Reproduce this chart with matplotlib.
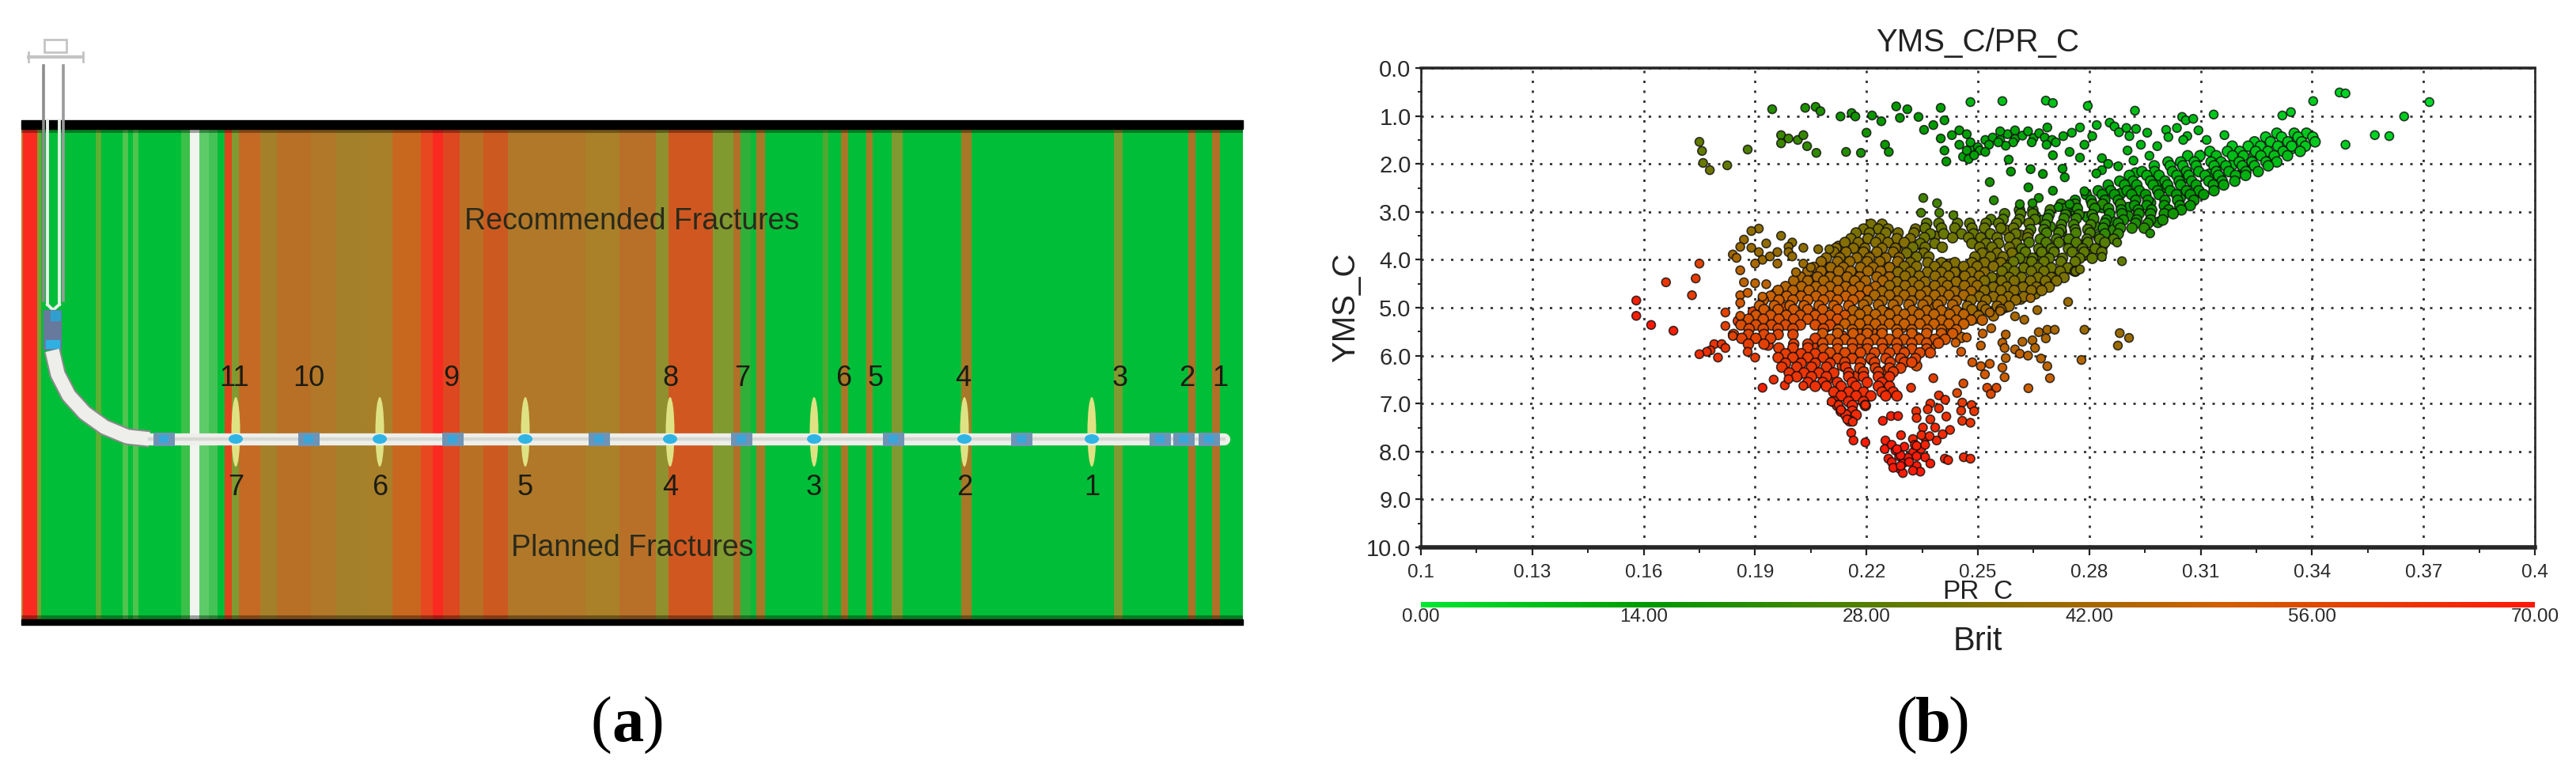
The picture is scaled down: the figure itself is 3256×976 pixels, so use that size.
import numpy as np
import matplotlib
matplotlib.use('Agg')
import matplotlib.pyplot as plt
from matplotlib.colors import LinearSegmentedColormap, Normalize
from matplotlib.cm import ScalarMappable
from matplotlib.patches import Ellipse, Rectangle

plt.rcParams['font.family'] = ['Liberation Sans', 'DejaVu Sans']

# (a) well log track, picture x position of each stripe edge and its colour
G = '#00BE37'
track_edges = [27, 29, 47, 52, 121, 128, 155, 162, 168, 175, 229, 240, 252, 264, 275, 284, 293, 302,
               329, 350, 393, 425, 464, 496, 532, 547, 560, 581, 611, 642, 740, 783, 829, 845, 901,
               927, 936, 949, 956, 967, 1040, 1047, 1063, 1072, 1095, 1103, 1127, 1141, 1215, 1228,
               1408, 1419, 1502, 1511, 1532, 1542, 1571]
track_colors = ['#C08030', '#FA2A20', '#7DA030', G, '#5CB034', G, '#4FC44F', G, '#4FC44F', G,
                '#3CC04A', '#F0F5F0', '#5CCB68', '#45C255', G, '#E0461E', '#7F9A30', '#C46A24',
                '#A5802A', '#B87026', '#B07828', '#A5802A', '#A8802A', '#C8681F', '#E84820',
                '#FA2A20', '#DD4820', '#B87025', '#CC5A20', '#B07828', '#AA8028', '#B87028',
                '#90902E', '#D05820', '#809A30', '#B07028', '#30B038', '#10B838', '#A87828', G,
                '#50A830', G, '#A87828', G, '#A87828', G, '#7F9A30', G, '#A87828', G, '#7F9A30', G,
                '#B07028', G, '#B07028', G]
well_x = [66, 73, 87, 107, 132, 161, 189, 1547]
well_y = [443, 473, 500, 522, 540, 552, 555, 555]
packer_x = [207, 390, 572, 757, 937, 1129, 1291, 1466, 1496, 1528]
planned_x = [1380, 1219, 1029, 847, 664, 480, 298]
planned_labels = ['1', '2', '3', '4', '5', '6', '7']
recommended_x = [1542, 1500, 1416, 1217, 1107, 1066, 938, 847, 570, 390, 296]
recommended_labels = ['1', '2', '3', '4', '5', '6', '7', '8', '9', '10', '11']

# (b) crossplot axes
pr_ticks = [0.1, 0.13, 0.16, 0.19, 0.22, 0.25, 0.28, 0.31, 0.34, 0.37, 0.4]
pr_labels = ['0.1', '0.13', '0.16', '0.19', '0.22', '0.25', '0.28', '0.31', '0.34', '0.37', '0.4']
yms_ticks = [0, 1, 2, 3, 4, 5, 6, 7, 8, 9, 10]
yms_labels = ['0.0', '1.0', '2.0', '3.0', '4.0', '5.0', '6.0', '7.0', '8.0', '9.0', '10.0']
brit_ticks = [0, 14, 28, 42, 56, 70]
brit_labels = ['0.00', '14.00', '28.00', '42.00', '56.00', '70.00']

# scattered points, read one by one
sparse_pr = [.3474, .349, .3403, .3716, .2566, .248, .2683, .2702, .2796, .2923, .3135, .332, .3343, .3648,
             .305, .306, .308, .282, .2855, .2868, .2687, .2775, .2753, .290, .2926, .288, .2956, .2908,
             .3007, .3036, .3094, .3064, .3013, .3164, .2808, .2787, .2939, .2903, .3569, .3608, .349,
             .3116, .3053, .2983, .2962, .2747, .2702, .2775, .2834, .2851, .2878, .2834, .2819, .2919,
             .2583, .2589, .2642, .2675, .2728, .2734, .2532, .2636, .2702, .2543, .2664, .2647, .2717,
             .2787, .2613, .2747,
             .1946, .2035, .2063, .2076, .213, .216, .217, .2215, .224, .228, .229, .231, .234, .240, .241,
             .238, .2355, .220, .197, .199, .197, .2015, .203, .204, .2065, .2145, .2185, .225, .226, .240,
             .243, .245, .241, .2415, .246, .245, .248,
             .175, .1757, .176, .1778, .1825, .188, .2353, .239, .2347, .2396, .2434,
             .248, .250, .247, .2475, .252, .254, .256, .258, .26, .262, .2635, .265, .2665, .268, .2645,
             .2595, .2575, .2555, .253, .2505, .249, .256, .26, .252, .247, .27, .273, .271, .2685]
sparse_yms = [.51, .53, .69, .71, .69, .71, .68, .73, .79, .89, .97, .99, .92, 1.01,
              1.02, 1.09, 1.06, 1.19, 1.14, 1.22, 1.24, 1.24, 1.35, 1.25, 1.27, 1.34, 1.35, 1.42,
              1.29, 1.25, 1.30, 1.42, 1.44, 1.40, 1.42, 1.60, 1.60, 1.72, 1.40, 1.42, 1.60,
              1.50, 1.50, 1.63, 1.83, 1.75, 1.82, 1.87, 1.88, 2.0, 2.05, 2.13, 2.2, 1.93,
              1.91, 2.16, 2.11, 2.21, 2.10, 2.28, 2.38, 2.49, 2.56, 2.76, 2.71, 2.82, 2.90,
              2.57, 2.84, 2.84,
              .86, .83, .81, .90, 1.01, .94, 1.01, .99, 1.11, .80, 1.04, .86, 1.02, .83, 1.09,
              1.19, 1.29, 1.35, 1.40, 1.47, 1.57, 1.50, 1.40, 1.63, 1.77, 1.75, 1.77, 1.60, 1.75, 1.47,
              1.40, 1.30, 1.72, 1.95, 1.85, 1.60, 1.67,
              1.54, 1.73, 1.98, 2.13, 2.03, 1.70, 2.71, 2.82, 3.02, 3.02, 3.07,
              1.55, 1.65, 1.72, 1.90, 1.5, 1.45, 1.5, 1.38, 1.48, 1.41, 1.32, 1.46, 1.36, 1.45, 1.55,
              1.55, 1.62, 1.55, 1.60, 1.72, 1.82, 1.32, 1.30, 1.75, 1.38, 1.5, 1.42, 1.55, 1.6]
sparse_brit = [4, 4, 5, 3, 7, 9, 7, 7, 7, 8, 6, 5, 5, 5,
               8, 8, 8, 9, 9, 9, 11, 10, 10, 9, 9, 9, 9, 9,
               8, 8, 8, 8, 8, 7, 10, 11, 9, 10, 4, 4, 5,
               7, 8, 9, 9, 12, 12, 12, 11, 11, 11, 11, 12, 10,
               13, 14, 14, 14, 13, 13, 18, 15, 15, 20, 17, 18, 17,
               15, 19, 16,
               20, 19, 19, 19, 17, 17, 17, 16, 15, 15, 15, 14, 14, 13, 13,
               14, 14, 17, 24, 24, 24, 23, 23, 22, 22, 20, 18, 16, 16, 14,
               13, 13, 14, 14, 12, 13, 12,
               30, 30, 31, 32, 30, 27, 25, 25, 26, 26, 27,
               12, 12, 13, 13, 12, 12, 12, 12, 12, 12, 12, 12, 12, 12, 12,
               12, 12, 12, 12, 13, 13, 12, 12, 13, 13, 11, 11, 11, 11]

# left fringe of the main cloud
fringe_pr = [.191, .189, .197, .187, .193, .186, .200, .199, .203, .207, .210, .189, .191, .196, .199, .200,
             .184, .185, .192, .194, .190, .196, .203, .205, .175, .186, .201, .174, .166, .187, .190, .193,
             .173, .158, .186, .188, .192, .186, .158, .182, .186, .162, .182, .168,
             .184, .179, .181, .182, .178, .177, .175, .180, .188, .190, .192, .195, .198, .199, .203]
fringe_yms = [3.35, 3.40, 3.50, 3.58, 3.66, 3.73, 3.64, 3.73, 3.75, 3.78, 3.78, 3.75, 3.84, 3.84, 3.84, 3.93,
              3.89, 3.96, 4.00, 3.93, 4.08, 4.08, 4.08, 4.16, 4.08, 4.22, 4.26, 4.39, 4.47, 4.47, 4.49, 4.51,
              4.74, 4.85, 4.74, 4.69, 4.77, 4.90, 5.17, 5.10, 5.17, 5.36, 5.38, 5.48,
              5.59, 5.76, 5.76, 5.84, 5.89, 5.92, 5.97, 6.04, 5.92, 6.04, 6.67, 6.50, 6.62, 6.49, 6.63]
fringe_brit = [38, 38, 37, 40, 38, 41, 37, 38, 38, 37, 36, 40, 40, 39, 39, 39,
               42, 43, 40, 40, 43, 41, 40, 40, 58, 46, 42, 60, 62, 47, 47, 46,
               60, 68, 50, 50, 49, 52, 68, 58, 53, 70, 59, 68,
               58, 62, 62, 62, 63, 63, 64, 63, 60, 60, 68, 63, 63, 63, 62]

# lower right scatter and the two red blobs
lower_pr = [.2763, .2775, .2888, .2834, .2875, .2964, .2743, .266, .2642, .26, .2625, .256, .2532, .2536, .2513, .247,
            .244, .2508, .2455, .2575, .2566, .2572, .26, .262, .2647, .2664, .2687, .2707, .2683, .2654,
            .267, .2687, .2694, .2787, .2882, .2907, .2877, .2779, .2613, .2575, .2635, .2485, .2532, .2508,
            .2566, .2519, .2572, .2636, .238, .232, .2461, .2444, .2525, .255, .2535, .2334,
            .2106, .2125, .2131, .2148, .2163, .2159, .2165, .2197, .2197, .2244, .2266, .2285,
            .2251, .2249, .2259, .2268, .2278, .2288, .2298, .2291, .2298, .2293, .2325, .2358, .2389, .2347,
            .2358, .2372, .2335, .2345, .2411, .242, .2462, .248, .2325, .2312, .2302, .2292, .2282, .2268, .2272,
            .2315, .2335, .233, .2395, .2372, .2412, .2458, .2483, .249, .2335, .2372, .2415, .2458, .248,
            .2365, .2395, .2455, .2352, .2385, .2425, .2348, .237, .2405, .2335, .2358, .2292, .2325]
lower_yms = [4.24, 4.20, 4.03, 3.94, 3.64, 3.45, 4.88, 5.05, 4.80, 5.18, 5.25, 5.07, 5.10, 5.43, 5.54, 5.62,
             5.73, 5.79, 5.92, 5.56, 5.73, 5.84, 5.87, 5.71, 5.68, 5.51, 5.46, 5.46, 5.64, 5.84,
             6.06, 6.22, 6.47, 5.46, 5.53, 5.63, 5.79, 6.09, 5.96, 6.05, 6.00, 6.14, 6.17, 6.22,
             6.25, 6.39, 6.45, 6.68, 6.47, 6.67, 6.58, 6.78, 6.67, 6.67, 6.80, 7.16,
             6.96, 7.03, 7.13, 7.33, 7.38, 7.61, 7.77, 7.03, 7.81, 7.36, 7.26, 7.26,
             7.77, 7.95, 8.15, 7.86, 7.98, 8.10, 8.25, 8.37, 8.45, 7.66, 7.74, 7.72, 7.77, 7.95,
             8.12, 8.25, 8.30, 8.42, 8.15, 8.18, 8.12, 8.15, 8.02, 8.13, 7.90, 8.08, 7.95, 8.22, 8.34,
             8.22, 8.10, 7.86, 6.83, 7.00, 6.92, 6.98, 7.03, 7.16, 7.30, 7.33, 7.27, 7.36, 7.40,
             7.12, 7.10, 7.15, 7.50, 7.50, 7.55, 7.66, 7.68, 7.64, 7.88, 7.86, 8.30, 8.40]
lower_brit = [32, 32, 30, 29, 27, 19, 40, 41, 42, 43, 43, 43, 44, 47, 48, 50,
              50, 48, 52, 46, 47, 47, 46, 45, 44, 44, 43, 43, 44, 45,
              46, 47, 49, 40, 40, 40, 40, 45, 48, 47, 47, 53, 51, 51,
              50, 52, 50, 50, 59, 62, 55, 56, 56, 56, 56, 63,
              64, 64, 65, 65, 65, 66, 67, 64, 69, 68, 68, 68,
              68, 69, 69, 70, 70, 70, 70, 69, 69, 66, 66, 66, 66, 68,
              68, 69, 69, 69, 66, 66, 64, 64, 69, 69, 70, 70, 70, 69, 69,
              69, 69, 69, 62, 63, 63, 60, 61, 61, 63, 63, 63, 62, 62,
              63, 63, 61, 65, 65, 64, 65, 65, 65, 67, 67, 69, 69]

# dense cloud, one entry per strip of equal YMS_C and read colour
pr_rows = [
    [.3305, .3352, .3385],
    [.3275, .3318, .3362, .3402],
    [.3245, .3288, .3335, .3372, .3408],
    [.3185, .3228, .3261, .3308, .3345, .3382],
    [.3125, .3172, .3205, .3248, .3281, .3322, .3368],
    [.3065, .3098, .3142, .3186, .3215, .3262, .3298, .3334],
    [.3012, .3046, .3083, .3128, .3155, .3204, .3238, .3276, .3305],
    [.2975, .3018, .3052, .3088, .3136, .3168, .3212, .3245, .3282],
    [.2942, .2976, .3024, .3062, .3095, .3142, .3176, .3222, .3255],
    [.2908, .2955, .2988, .3036, .3068, .3112, .3148, .3194, .3221],
    [.2882, .2918, .2965, .3004, .3042, .3076, .3122, .3158, .3192],
    [.2851, .2895, .2928, .2972, .3011, .3046, .3088, .3134, .3162],
    [.2824, .2858, .2902, .2935, .2984, .3018, .3062, .3095, .3136],
    [.2792, .2835, .2868, .2914, .2952, .2988, .3035, .3072, .3108],
    [.2762, .2805, .2842, .2878, .2925, .2958, .3004, .3038, .3082],
    [.2724, .2762, .2808, .2836, .2884], [.2922, .2955, .3002, .3044, .3072],
    [.2612, .2648, .2695], [.2735, .2768, .2815, .2852], [.2886, .2932, .2968, .3014, .3048],
    [.2572, .2615, .2648], [.2692, .2736, .2772, .2808], [.2855, .2888, .2934, .2965, .3002, .3026],
    [.2535, .2568, .2612, .2654], [.2688, .2732, .2765, .2812], [.2846, .2892, .2928, .2965, .2998],
    [.2212, .2242], [.2362, .2395, .2445, .2478, .2522, .2556, .2604, .2638], [.2682, .2725, .2758, .2804], [.2842, .2878, .2925, .2958],
    [.2192, .2232, .2258, .2332], [.2358, .2402, .2438, .2484, .2518, .2562, .2596], [.2642, .2678, .2724, .2762, .2796], [.2838, .2884, .2915, .2948],
    [.2172, .2208, .2252, .2285, .2328], [.2372, .2408, .2456, .2488, .2534, .2602, .2636], [.2685, .2718, .2764, .2802], [.2842, .2878],
    [.2158, .2204, .2236, .2282, .2318], [.2356, .2432, .2475, .2508, .2552, .2585, .2634], [.2668, .2712, .2745, .2794, .2828, .2866],
    [.2142, .2178, .2225, .2258, .2302], [.2345, .2384, .2484, .2522, .2556, .2604], [.2638, .2684, .2718, .2765, .2796, .2842],
    [.2118, .2165, .2196, .2242, .2278], [.2325, .2358, .2404, .2505, .2538, .2585], [.2618, .2664, .2698, .2744, .2782, .2816],
    [.2112, .2145, .2192, .2228, .2272], [.2308, .2354, .2512, .2552, .2592], [.2628, .2672, .2705, .2754, .2786, .2834],
    [.2092, .2128, .2174, .2208, .2252, .2288], [.2335, .2368, .2492, .2534, .2568], [.2612, .2648, .2692, .2728, .2774, .2808],
    [.2078, .2122, .2155, .2202, .2236, .2284], [.2318, .2365, .2402, .2438, .2484, .2518, .2562], [.2596, .2645, .2678, .2724, .2762],
    [.2058, .2104, .2138, .2184, .2218, .2262], [.2302, .2335, .2384, .2416, .2462, .2498, .2542], [.2578, .2624, .2662, .2698, .2742],
    [.2042, .2078, .2125, .2158, .2204, .2238], [.2285, .2318, .2364, .2402, .2438, .2482, .2518], [.2565, .2598, .2644, .2678, .2722, .2762],
    [.2022, .2068, .2102, .2148, .2182, .2228, .2262], [.2304, .2342, .2385, .2422, .2465, .2504], [.2538, .2584, .2618, .2662, .2698, .2732],
    [.2004, .2042, .2085, .2122, .2168, .2198, .2244], [.2282, .2325, .2358, .2404, .2442, .2484], [.2518, .2564, .2598, .2642, .2682, .2712],
    [.1982, .2025, .2064, .2102, .2144, .2182, .2224], [.2262, .2304, .2342, .2384, .2418, .2464, .2498], [.2542, .2578, .2622, .2658, .2692],
    [.1962, .2002, .2045, .2082, .2124, .2162, .2204], [.2242, .2284, .2322, .2362, .2402, .2438, .2482], [.2518, .2562, .2598, .2644, .2672],
    [.1942, .1985, .2024, .2064, .2102, .2144, .2182], [.2222, .2262, .2302, .2345, .2384, .2422, .2462], [.2504, .2542, .2582, .2624],
    [.1922, .1964, .2002, .2042, .2084, .2122, .2164], [.2202, .2242, .2284, .2322, .2364, .2402, .2442], [.2482, .2522, .2564, .2602],
    [.1912, .1952, .1994, .2032, .2072, .2112, .2152], [.2192, .2232, .2272, .2314, .2352, .2392, .2432], [.2472, .2512, .2552, .2584],
    [.1924, .1962, .2004, .2042, .2082, .2122], [.2164, .2202, .2242, .2282, .2324, .2362, .2402, .2442], [.2484, .2522, .2562],
    [.1902, .1942, .1984, .2022, .2062, .2102, .2142], [.2182, .2224, .2262, .2302, .2342, .2382, .2424, .2462], [.2502, .2542],
    [.1882, .1922, .1964, .2004, .2042, .2082, .2122], [.2162, .2204, .2242, .2284, .2322, .2362, .2402, .2442, .2482, .2512],
    [.1862, .1902, .1944, .1982, .2022, .2062, .2102], [.2142, .2182, .2224, .2262, .2302, .2344, .2382, .2422, .2462],
    [.1884, .1922, .1962, .2002, .2084], [.2124, .2162, .2204, .2242, .2282, .2322, .2364, .2402, .2442],
    [.1842, .1882, .1924, .1962, .2002], [.2082, .2122, .2164, .2202, .2242, .2284, .2322, .2362, .2402, .2432],
    [.1864, .1902, .1942, .2062], [.2102, .2142, .2184, .2222, .2262, .2302, .2342, .2384, .2412],
    [.1882, .1924, .2004, .2042], [.2082, .2122, .2162, .2204, .2242, .2282, .2322, .2362, .2394],
    [.1964, .2002, .2042], [.2084, .2122, .2162, .2202, .2244, .2282, .2322, .2362],
    [.1982, .2024, .2062], [.2102, .2142, .2184, .2222, .2262, .2302, .2344, .2372],
    [.1962, .2002, .2042, .2084], [.2122, .2162, .2212, .2252, .2292, .2332],
    [.1982, .2024, .2062, .2102], [.2142, .2184, .2222, .2264, .2302, .2322],
    [.1972, .2012, .2052, .2092, .2144], [.2182, .2224, .2262, .2292],
    [.1992, .2032, .2072, .2112, .2152], [.2192, .2232, .2272],
    [.2012, .2052, .2092, .2152, .2192, .2232, .2262],
    [.2042, .2082, .2122, .2162, .2202, .2242],
    [.2062, .2092, .2132, .2172, .2232, .2262],
    [.2112, .2152, .2192, .2242, .2272],
    [.2132, .2172, .2212, .2252, .2282],
    [.2112, .2152, .2192],
    [.2122, .2162, .2197],
    [.2132, .2162],
    [.2145, .2172],
    [.2155],
]
yms_rows = [1.36, 1.44, 1.54, 1.63, 1.74, 1.83, 1.96, 2.04, 2.16, 2.24, 2.36, 2.44, 2.56, 2.64, 2.76,
            2.84, 2.87,
            2.96, 2.93, 2.96,
            3.04, 3.06, 3.04,
            3.16, 3.14, 3.17,
            3.26, 3.24, 3.27, 3.24,
            3.36, 3.34, 3.37, 3.34,
            3.44, 3.46, 3.44, 3.46,
            3.56, 3.54, 3.57,
            3.64, 3.66, 3.64,
            3.76, 3.74, 3.77,
            3.84, 3.86, 3.84,
            3.96, 3.94, 3.97,
            4.04, 4.06, 4.04,
            4.16, 4.14, 4.17,
            4.24, 4.26, 4.24,
            4.36, 4.34, 4.37,
            4.44, 4.46, 4.44,
            4.56, 4.54, 4.57,
            4.64, 4.66, 4.64,
            4.76, 4.74, 4.77,
            4.84, 4.86, 4.84,
            4.96, 4.94, 4.97,
            5.04, 5.06, 5.04,
            5.16, 5.14, 5.17,
            5.24, 5.26,
            5.36, 5.34,
            5.44, 5.46,
            5.56, 5.54,
            5.64, 5.66,
            5.76, 5.74,
            5.84, 5.86,
            5.96, 5.94,
            6.04, 6.06,
            6.16, 6.14,
            6.24, 6.26,
            6.36, 6.34,
            6.44, 6.56, 6.64, 6.76, 6.84, 6.96, 7.04, 7.16, 7.24, 7.36]
brit_rows = [6, 5, 6, 6, 7, 8, 8, 9, 10, 10, 11, 12, 13, 14, 15,
             20, 15,
             25, 19, 16,
             27, 22, 17,
             28, 23, 18,
             34, 30, 25, 19,
             34, 31, 26, 21,
             34, 31, 26, 22,
             35, 32, 27,
             36, 32, 28,
             37, 33, 29,
             38, 34, 30,
             39, 34, 30,
             40, 35, 31,
             41, 36, 32,
             42, 37, 33,
             43, 38, 34,
             44, 39, 35,
             45, 40, 36,
             47, 42, 37,
             49, 43, 38,
             50, 44, 39,
             50, 45, 40,
             52, 46, 41,
             53, 47, 42,
             54, 48,
             55, 49,
             56, 50,
             57, 52,
             58, 53,
             59, 54,
             59, 55,
             60, 56,
             60, 57,
             61, 58,
             61, 58,
             62, 59,
             62, 63, 63, 63, 64, 64, 64, 65, 65, 65]

# points seen between the strips, they break up the packing
infill_pr = [.3345, .3285, .3215, .3155, .3095, .3045, .2985, .2925, .2885, .2835, .2795, .2745, .2695, .2655,
             .3245, .3185, .3125, .3065, .3005, .2965, .2905, .2865, .2815, .2765, .2725, .2675, .2615, .2575,
             .3045, .2985, .2905, .2865, .2825, .2785, .2745, .2705, .2665, .2625, .2585, .2545, .2505, .2455,
             .2425, .2385, .2345, .2285, .2245, .2205, .2165, .2125, .2085, .2045, .2005,
             .2835, .2795, .2755, .2715, .2675, .2635, .2595, .2555, .2515, .2475, .2435, .2395, .2355, .2315,
             .2275, .2235, .2195, .2155, .2115, .2075, .2035, .1995, .1955, .1915,
             .2695, .2655, .2615, .2575, .2535, .2495, .2455, .2415, .2375, .2335, .2295, .2255, .2215, .2175,
             .2135, .2095, .2055, .2015, .1975, .1935, .1895, .1855,
             .2455, .2415, .2375, .2335, .2295, .2255, .2215, .2175, .2135, .2095, .2055, .2015, .1975, .1935,
             .2335, .2295, .2255, .2215, .2175, .2135, .2095, .2055, .2015]
infill_yms = [1.68, 1.88, 2.09, 2.33, 2.58, 2.71, 2.38, 2.19, 2.62, 2.91, 3.11, 2.98, 3.31, 3.09,
              1.79, 2.02, 2.21, 2.29, 2.49, 2.81, 2.91, 3.21, 3.29, 3.02, 3.42, 3.18, 3.49, 3.38,
              2.92, 3.22, 3.09, 3.38, 3.52, 3.69, 3.62, 3.81, 3.92, 4.02, 4.11, 3.99, 4.21, 4.29,
              4.09, 3.51, 3.68, 3.82, 4.12, 3.92, 4.31, 3.72, 4.18, 4.42, 4.58,
              3.72, 3.89, 4.21, 4.32, 4.41, 4.52, 4.68, 4.39, 4.62, 4.79, 4.51, 4.72, 4.92, 4.61,
              4.81, 4.48, 4.69, 4.99, 4.78, 4.52, 4.91, 5.09, 4.71, 5.01,
              4.48, 4.71, 4.82, 4.99, 5.09, 5.22, 5.12, 5.32, 5.01, 5.19, 5.42, 5.11, 5.31, 5.49,
              5.21, 5.39, 5.12, 5.31, 4.99, 5.21, 5.09, 5.28,
              5.62, 5.51, 5.79, 5.62, 5.89, 5.71, 5.49, 5.82, 5.59, 5.98, 5.79, 6.11, 5.99, 5.78,
              6.21, 6.01, 6.31, 6.09, 6.42, 6.21, 6.49, 6.28, 6.41]
infill_brit = [6, 7, 9, 10, 12, 14, 11, 10, 14, 17, 18, 16, 24, 19,
               7, 8, 10, 11, 13, 16, 15, 19, 23, 20, 27, 25, 31, 33,
               15, 18, 18, 21, 23, 26, 26, 28, 29, 31, 33, 33, 35, 37,
               36, 33, 35, 37, 41, 39, 44, 39, 44, 47, 49,
               28, 29, 31, 33, 34, 35, 36, 37, 39, 41, 40, 42, 44, 43,
               45, 44, 46, 49, 49, 48, 50, 53, 51, 54,
               33, 35, 37, 39, 40, 42, 42, 45, 44, 46, 49, 48, 50, 53,
               53, 55, 53, 56, 55, 57, 58, 60,
               47, 47, 50, 50, 53, 52, 52, 55, 55, 58, 58, 61, 60, 61,
               55, 55, 58, 58, 60, 60, 62, 62, 62]

# colour scale of the crossplot
brit_scale = LinearSegmentedColormap.from_list('brit', [
    (0.0, '#00E832'), (0.2, '#009A00'), (0.5, '#807000'), (0.72, '#D06000'), (1.0, '#FF1808')])
brit_norm = Normalize(0, 70)


def draw_well(ax):
    widths = np.diff(track_edges)
    ax.bar(track_edges[:-1], 630, width=widths, bottom=155, align='edge', color=track_colors,
           linewidth=0, antialiased=False, zorder=1)
    ax.add_patch(Rectangle((27, 152), 1544, 11, color='black', zorder=2))
    ax.add_patch(Rectangle((27, 163), 1544, 5, color='black', alpha=0.35, lw=0, zorder=2))
    ax.add_patch(Rectangle((27, 783), 1544, 7, color='black', zorder=2))
    ax.add_patch(Rectangle((27, 778), 1544, 5, color='black', alpha=0.35, lw=0, zorder=2))

    # vertical section and wellhead
    ax.plot([55, 55], [83, 380], color='#8c8c8c', lw=2.6, zorder=3)
    ax.plot([80, 80], [83, 380], color='#9a9a9a', lw=2.6, zorder=3)
    ax.plot([60, 60], [152, 385], color='#e8efe8', lw=2.8, zorder=3)
    ax.plot([75, 75], [152, 385], color='#e8efe8', lw=2.8, zorder=3)
    ax.plot([60, 67, 75], [385, 392, 385], color='#e8efe8', lw=2.8, zorder=3)
    ax.add_patch(Rectangle((56, 50), 28, 16, fill=False, ec='#c4c4c4', lw=2, zorder=3))
    ax.plot([36, 105], [72, 72], color='#c4c4c4', lw=3, zorder=3)
    ax.plot([36, 36], [66, 78], color='#c4c4c4', lw=2, zorder=3)
    ax.plot([105, 105], [66, 78], color='#c4c4c4', lw=2, zorder=3)
    ax.add_patch(Rectangle((55, 392), 22, 50, color='#67799c', zorder=3))
    ax.add_patch(Rectangle((58, 430), 17, 10, color='#2fb0e2', zorder=4))
    ax.add_patch(Rectangle((64, 393), 12, 12, color='#2f9fd0', zorder=4))

    # lateral
    ax.plot(well_x[:7], well_y[:7], color='#8a8a8a', lw=15.5, solid_capstyle='butt', zorder=3)
    ax.plot(well_x[:7], well_y[:7], color='#eeeeea', lw=12.5, solid_capstyle='butt', zorder=4)
    ax.plot(well_x[6:], well_y[6:], color='#eeeeea', lw=11, solid_capstyle='round', zorder=4)
    ax.plot(well_x[6:], well_y[6:], color='#d5d9d2', lw=3, zorder=4)

    for x in planned_x:
        ax.add_patch(Ellipse((x, 546), 11, 88, color='#DFE283', lw=0, zorder=3))
        ax.add_patch(Ellipse((x, 555), 18, 12, color='#2FB4E4', lw=0, zorder=6))
    ax.bar(packer_x, 17, width=27, bottom=547, color='#6F93B5', linewidth=0, zorder=5)
    ax.bar(packer_x, 10, width=12, bottom=550, color='#38A6DA', linewidth=0, zorder=6)

    for x, s in zip(recommended_x, recommended_labels):
        ax.text(x, 479, s, fontsize=26, color='#1c1c14', ha='center', va='center', zorder=7)
    for x, s in zip(planned_x, planned_labels):
        ax.text(x, 616, s, fontsize=26, color='#1c1c14', ha='center', va='center', zorder=7)
    ax.text(799, 280, 'Recommended Fractures', fontsize=27, color='#2a2a1c', ha='center', va='center', zorder=7)
    ax.text(799, 693, 'Planned Fractures', fontsize=27, color='#2a2a1c', ha='center', va='center', zorder=7)


def draw_caption(ax, x, letter):
    ax.text(x - 33, 917, '(', family='Liberation Serif', fontsize=58, ha='center', va='center')
    ax.text(x, 917, letter, family='Liberation Serif', fontsize=58, weight='bold', ha='center', va='center')
    ax.text(x + 33, 917, ')', family='Liberation Serif', fontsize=58, ha='center', va='center')


def draw_crossplot(ax):
    ax.set_xlim(0.1, 0.4)
    ax.set_ylim(10, 0)
    ax.set_axisbelow(True)
    ax.grid(True, color='#333333', lw=2.0, linestyle=(0, (1.1, 3.4)))

    # the dense cloud first with a bigger mark so it closes up, the loose points on top
    pr = list(infill_pr)
    yms = list(infill_yms)
    brit = list(infill_brit)
    for row, y, b in zip(pr_rows, yms_rows, brit_rows):
        pr += row
        yms += [y] * len(row)
        brit += [b] * len(row)
    ax.scatter(pr, yms, c=brit, cmap=brit_scale, norm=brit_norm, s=88, linewidths=1.2,
               edgecolors=(0.05, 0.05, 0.05, 0.8), zorder=3)
    ax.scatter(sparse_pr + fringe_pr + lower_pr, sparse_yms + fringe_yms + lower_yms,
               c=sparse_brit + fringe_brit + lower_brit, cmap=brit_scale, norm=brit_norm, s=62,
               linewidths=1.2, edgecolors=(0.05, 0.05, 0.05, 0.8), zorder=3)

    ax.set_xticks(pr_ticks, pr_labels, fontsize=17.5, color='#2a2a2a')
    ax.set_yticks(yms_ticks, yms_labels, fontsize=21, color='#2a2a2a')
    ax.set_xticks([0.115, 0.145, 0.175, 0.205, 0.235, 0.265, 0.295, 0.325, 0.355, 0.385], minor=True)
    ax.set_yticks([0.5, 1.5, 2.5, 3.5, 4.5, 5.5, 6.5, 7.5, 8.5, 9.5], minor=True)
    ax.tick_params(axis='x', which='major', length=7, width=1.6, pad=8, color='#222222')
    ax.tick_params(axis='y', which='major', length=5, width=1.6, pad=4, color='#222222')
    ax.tick_params(axis='x', which='minor', length=5, width=1.4, color='#222222')
    ax.tick_params(axis='y', which='minor', length=3, width=1.4, color='#222222')
    ax.grid(False, which='minor')

    for side, lw in zip(['top', 'left', 'right', 'bottom'], [2.6, 1.9, 1.9, 4]):
        ax.spines[side].set_linewidth(lw)
        ax.spines[side].set_color('#262626')

    ax.set_title('YMS_C/PR_C', fontsize=29, color='#222222', pad=15)
    ax.set_ylabel('YMS_C', fontsize=29, color='#222222', labelpad=5)
    ax.set_xlabel('PR_C', fontsize=24, color='#222222', labelpad=-1)


def draw_scale(cax):
    sm = ScalarMappable(norm=brit_norm, cmap=brit_scale)
    bar = plt.colorbar(sm, cax=cax, orientation='horizontal')
    bar.outline.set_visible(False)
    bar.set_ticks(brit_ticks, labels=brit_labels)
    cax.tick_params(axis='x', length=0, pad=1, labelsize=17.5, labelcolor='#2a2a2a')
    cax.set_xlabel('Brit', fontsize=30, color='#222222', labelpad=0)


fig = plt.figure(figsize=(32.56, 9.76), dpi=100)

# whole figure as picture coordinates for panel (a) and the captions
ax_pic = fig.add_axes([0, 0, 1, 1])
ax_pic.set_xlim(0, 3256)
ax_pic.set_ylim(976, 0)
ax_pic.axis('off')
draw_well(ax_pic)
draw_caption(ax_pic, 793, 'a')
draw_caption(ax_pic, 2443, 'b')

ax_cross = fig.add_axes([1796 / 3256, 1 - 692 / 976, 1408 / 3256, 606 / 976])
draw_crossplot(ax_cross)

ax_bar = fig.add_axes([1796 / 3256, 1 - 768 / 976, 1408 / 3256, 7 / 976])
draw_scale(ax_bar)

plt.savefig('out.png', dpi=100)
